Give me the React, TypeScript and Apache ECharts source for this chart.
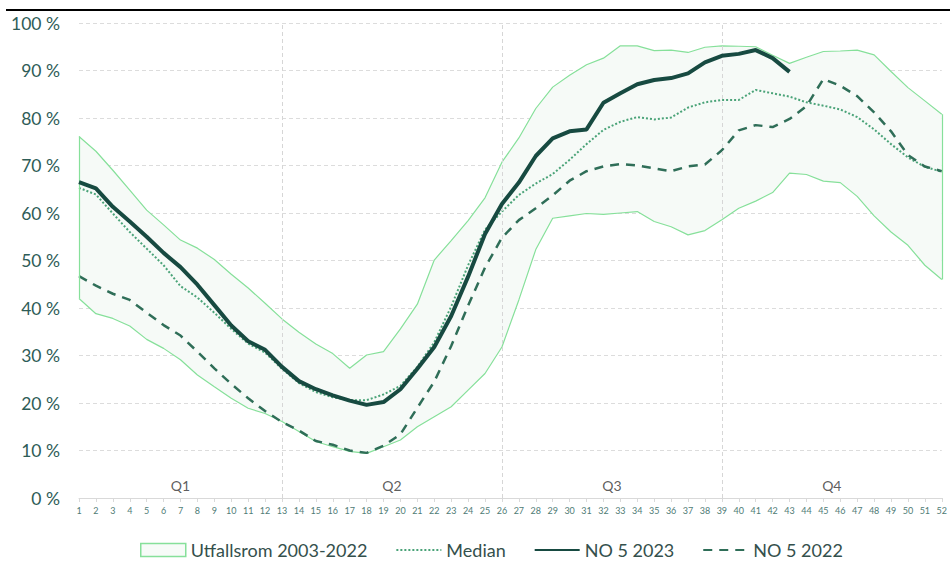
import React, { useEffect, useRef } from "react";
import * as echarts from "echarts";

const weeks: string[] = Array.from({ length: 52 }, (_, i) => String(i + 1));

const bandUpper: number[] = [
  76.1, 73.0, 69.0, 64.8, 60.6, 57.5, 54.3, 52.6, 50.2, 47.1,
  44.2, 41.0, 37.7, 34.9, 32.4, 30.4, 27.3, 30.1, 30.8, 35.6,
  40.8, 50.1, 54.2, 58.4, 63.2, 70.7, 75.8, 82.0, 86.5, 89.0,
  91.2, 92.6, 95.2, 95.2, 94.2, 94.3, 93.8, 94.9, 95.2, 95.1,
  95.0, 93.2, 91.5, 92.8, 94.0, 94.1, 94.3, 93.3, 89.8, 86.4,
  83.6, 80.8,
];

const bandLower: number[] = [
  42.0, 38.8, 37.8, 36.2, 33.4, 31.5, 29.1, 25.9, 23.4, 21.0,
  18.9, 17.8, 16.1, 14.0, 11.9, 10.8, 9.8, 9.4, 10.8, 12.2,
  15.0, 17.1, 19.2, 22.7, 26.2, 31.8, 41.7, 52.3, 58.9, 59.4,
  59.9, 59.7, 60.0, 60.3, 58.2, 57.1, 55.4, 56.3, 58.6, 61.0,
  62.5, 64.3, 68.4, 68.1, 66.7, 66.4, 63.5, 59.4, 56.0, 53.2,
  49.0, 46.0,
];

const median: number[] = [
  65.3, 63.9, 59.9, 56.0, 52.5, 49.0, 44.6, 42.2, 39.0, 35.6,
  32.5, 30.6, 27.2, 24.2, 22.3, 21.2, 20.6, 20.6, 21.8, 23.6,
  27.6, 32.8, 40.3, 49.0, 56.5, 60.3, 63.8, 66.2, 68.2, 71.2,
  74.5, 77.5, 79.2, 80.2, 79.7, 80.1, 82.2, 83.3, 83.8, 83.8,
  85.9, 85.2, 84.5, 83.3, 82.6, 81.8, 80.2, 77.6, 74.5, 71.7,
  69.7, 68.7,
];

const no5_2023: (number | null)[] = [
  66.5, 65.2, 61.3, 58.2, 55.0, 51.6, 48.6, 44.9, 40.6, 36.3,
  33.0, 31.2, 27.6, 24.6, 22.9, 21.6, 20.5, 19.6, 20.2, 22.9,
  27.2, 31.8, 38.3, 46.6, 55.6, 61.9, 66.4, 72.0, 75.7, 77.2,
  77.6, 83.2, 85.2, 87.1, 88.0, 88.4, 89.4, 91.7, 93.1, 93.5,
  94.3, 92.6, 89.7, null, null, null, null, null, null, null,
  null, null,
];

const no5_2022: number[] = [
  46.7, 44.7, 43.0, 41.7, 39.0, 36.4, 34.2, 30.8, 27.3, 24.0,
  21.0, 18.3, 16.0, 14.2, 12.0, 11.2, 10.0, 9.5, 11.0, 13.4,
  19.0, 24.5, 32.0, 40.5, 48.5, 54.8, 58.5, 61.0, 63.7, 66.8,
  68.8, 69.8, 70.3, 70.0, 69.4, 68.8, 69.8, 70.2, 73.2, 77.4,
  78.5, 78.1, 79.8, 82.5, 88.2, 86.8, 84.6, 81.2, 77.2, 72.2,
  69.8, 68.8,
];

const quarterNames: string[] = ["Q1", "Q2", "Q3", "Q4"];
const quarterBounds: number[] = [1, 13, 26, 39, 52];
const yTicks: number[] = [0, 10, 20, 30, 40, 50, 60, 70, 80, 90, 100];

const bandName = "Utfallsrom 2003-2022";
const FONT = "Lato, 'Open Sans', sans-serif";

export default function App() {
  const ref = useRef<HTMLDivElement>(null);

  useEffect(() => {
    if (!ref.current) return;
    const chart = echarts.init(ref.current, null, { renderer: "svg" });

    const bandDiff = bandUpper.map((u, i) => +(u - bandLower[i]).toFixed(2));
    const quarterCenters = quarterNames.map((q, i) => [
      (quarterBounds[i] + quarterBounds[i + 1]) / 2,
      0,
      q,
    ]);
    const last = weeks.length - 1;

    const bandLine = { color: "#86e09a", width: 1.2 };
    const hiddenSymbol = { opacity: 0 };

    chart.setOption({
      animation: false,
      backgroundColor: "#ffffff",
      textStyle: { fontFamily: FONT },
      grid: { left: 79, right: 3, top: 23, bottom: 78, containLabel: false },
      xAxis: [
        {
          type: "category",
          data: weeks,
          boundaryGap: false,
          axisLine: { show: true, lineStyle: { color: "#d9d9d9", width: 1 } },
          axisTick: { show: true, alignWithLabel: true, length: 4, lineStyle: { color: "#d9d9d9" } },
          axisLabel: { interval: 0, fontSize: 9, color: "#4f7c76", margin: 8, fontFamily: FONT },
          splitLine: { show: false },
        },
        {
          type: "value",
          min: 1,
          max: 52,
          show: false,
        },
      ],
      yAxis: {
        type: "value",
        min: yTicks[0],
        max: yTicks[yTicks.length - 1],
        interval: 10,
        axisLine: { show: false },
        axisTick: { show: false },
        axisLabel: { formatter: "{value} %", fontSize: 17.5, color: "#2e5c57", margin: 19, fontFamily: FONT },
        splitLine: { show: true, lineStyle: { color: "#dcdcdc", type: [4, 3], width: 1 } },
      },
      legend: {
        left: 140,
        top: 541,
        padding: 0,
        itemWidth: 45,
        itemHeight: 13,
        itemGap: 28,
        textStyle: { fontSize: 18, color: "#34504c", fontFamily: FONT },
        data: [
          {
            name: bandName,
            icon: "rect",
            itemStyle: { color: "#f7fbf8", borderColor: "#86e09a", borderWidth: 1.5 },
          },
          { name: "Median", itemStyle: hiddenSymbol },
          { name: "NO 5 2023", itemStyle: hiddenSymbol },
          { name: "NO 5 2022", itemStyle: hiddenSymbol },
        ],
      },
      graphic: [
        {
          type: "line",
          shape: { x1: 6, y1: 10, x2: 950, y2: 10 },
          style: { stroke: "#000000", lineWidth: 2 },
          silent: true,
        },
      ],
      series: [
        {
          name: "lower",
          type: "line",
          stack: "band",
          data: bandLower,
          symbol: "none",
          lineStyle: bandLine,
          silent: true,
          z: 2,
        },
        {
          name: bandName,
          type: "line",
          stack: "band",
          data: bandDiff,
          symbol: "none",
          lineStyle: bandLine,
          areaStyle: { color: "#f6faf7", opacity: 1 },
          silent: true,
          z: 2,
          markLine: {
            silent: true,
            symbol: ["none", "none"],
            label: { show: false },
            data: [
              ...quarterBounds.slice(1, 4).map((b) => ({
                xAxis: String(b),
                lineStyle: { color: "#d6d6d6", type: [4, 3], width: 1 },
              })),
              [
                { coord: [weeks[0], bandLower[0]], lineStyle: { color: "#86e09a", type: "solid", width: 1.2 } },
                { coord: [weeks[0], bandUpper[0]] },
              ],
              [
                { coord: [weeks[last], bandLower[last]], lineStyle: { color: "#86e09a", type: "solid", width: 1.2 } },
                { coord: [weeks[last], bandUpper[last]] },
              ],
            ],
          },
        },
        {
          name: "Median",
          type: "line",
          data: median,
          symbol: "none",
          lineStyle: { color: "#4aa378", width: 2, type: [2, 2] },
          itemStyle: { color: "#4aa378" },
          z: 3,
        },
        {
          name: "NO 5 2022",
          type: "line",
          data: no5_2022,
          symbol: "none",
          lineStyle: { color: "#2f6e58", width: 2.5, type: [9, 7] },
          itemStyle: { color: "#2f6e58" },
          z: 4,
        },
        {
          name: "NO 5 2023",
          type: "line",
          data: no5_2023,
          symbol: "none",
          connectNulls: false,
          lineStyle: { color: "#174a41", width: 4 },
          itemStyle: { color: "#174a41" },
          z: 5,
        },
        {
          name: "quarters",
          type: "scatter",
          xAxisIndex: 1,
          yAxisIndex: 0,
          data: quarterCenters,
          symbolSize: 0,
          silent: true,
          label: {
            show: true,
            position: "top",
            distance: 6,
            formatter: (p: any) => p.value[2],
            fontSize: 14,
            color: "#333333",
            fontFamily: FONT,
          },
          z: 6,
        },
      ],
    });

    return () => chart.dispose();
  }, []);

  return (
    <div
      ref={ref}
      style={{ position: "fixed", left: 0, top: 0, width: 950, height: 576, background: "#ffffff" }}
    />
  );
}
